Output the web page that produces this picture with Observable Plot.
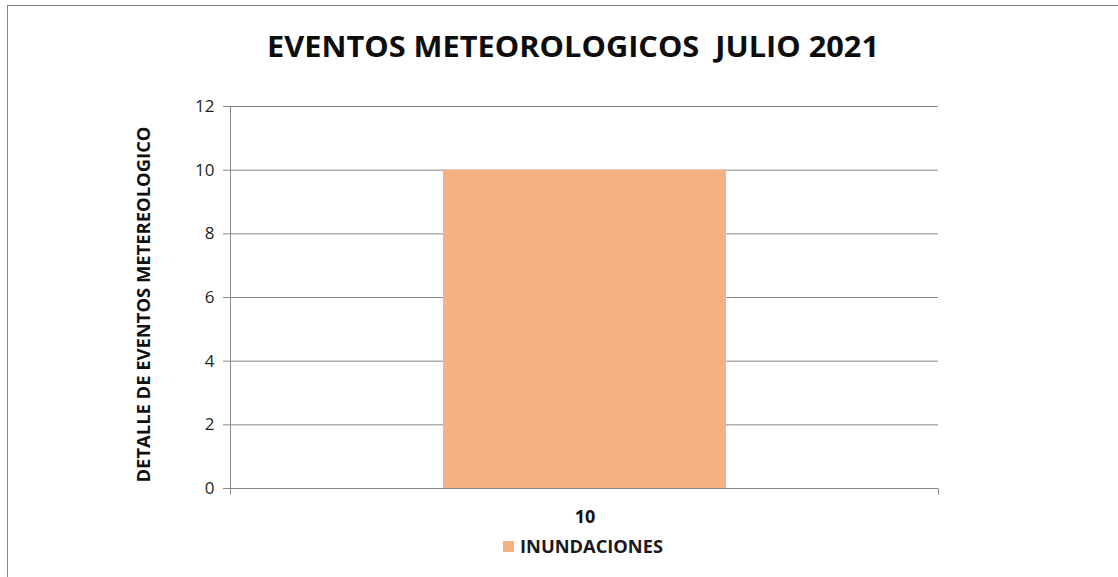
<!DOCTYPE html>
<html>
<head>
<meta charset="utf-8">
<script src="https://cdn.jsdelivr.net/npm/d3@7"></script>
<script src="https://cdn.jsdelivr.net/npm/@observablehq/plot@0.6"></script>
<style>
  html, body { margin: 0; padding: 0; background: #fff; }
  #wrap { position: relative; width: 1118px; height: 577px; overflow: hidden; background: #fff; font-family: "Open Sans", sans-serif; }
  #border { position: absolute; left: 7px; top: 5px; width: 1200px; height: 700px; border-top: 1px solid #888; border-left: 1px solid #888; box-sizing: border-box; }
  #title { position: absolute; left: 267px; top: 27px; white-space: nowrap; font-size: 29px; font-weight: 700; color: #0d0d0d; line-height: 1.3; transform-origin: 0 50%; }
  #plot { position: absolute; left: 0; top: 80px; }
  #legend { position: absolute; left: 503px; top: 535px; height: 22px; display: flex; align-items: center; }
  #legend .sw { width: 11px; height: 11px; margin-right: 6px; }
  #legend .lt { font-size: 17px; font-weight: 700; color: #1a1a1a; white-space: nowrap; transform-origin: 0 50%; display: inline-block; }
  #plot svg g[aria-label="y-axis tick label"] text { font-size: 17px; }
  #plot svg g[aria-label="x-axis tick label"] text { font-size: 18px; font-weight: 700; }
</style>
</head>
<body>
<div id="wrap">
  <div id="border"></div>
  <div id="title"></div>
  <div id="plot"></div>
  <div id="legend"></div>
</div>
<script>
const titleText = "EVENTOS METEOROLOGICOS  JULIO 2021";
const yAxisLabel = "DETALLE DE EVENTOS METEREOLOGICO";
const categories = ["10"];
const seriesNames = ["INUNDACIONES"];
const seriesValues = [10];
const yTicks = [0, 2, 4, 6, 8, 10, 12];
const seriesColors = ["#F4B183"];

const data = categories.map((c, i) => ({ cat: c, value: seriesValues[i], series: seriesNames[0] }));

const gray = "#898989";

const axisLines = (index, scales, values, dim) => {
  const { width, height, marginLeft, marginRight, marginTop, marginBottom } = dim;
  const g = d3.create("svg:g").attr("stroke", gray).attr("stroke-width", 1);
  const xl = marginLeft + 0.5, xr = width - marginRight + 0.5, yb = height - marginBottom + 0.5;
  g.append("line").attr("x1", xl).attr("x2", xl).attr("y1", marginTop).attr("y2", yb + 6);
  g.append("line").attr("x1", xr).attr("x2", xr).attr("y1", yb).attr("y2", yb + 6);
  return g.node();
};

const chart = Plot.plot({
  width: 1118,
  height: 455,
  marginTop: 26,
  marginBottom: 47,
  marginLeft: 230,
  marginRight: 180,
  style: { fontFamily: "Open Sans, sans-serif", fontSize: "17px", background: "transparent", overflow: "visible" },
  x: { domain: categories, paddingInner: 0, paddingOuter: 0.7465, label: null },
  y: { domain: [0, 12], ticks: yTicks, label: null },
  color: { domain: seriesNames, range: seriesColors },
  marks: [
    Plot.gridY(yTicks, { stroke: gray, strokeOpacity: 1 }),
    Plot.barY(data, { x: "cat", y: "value", fill: "series" }),
    Plot.axisY(yTicks, { tickSize: 7, tickPadding: 9, fontSize: 17, stroke: gray, fill: "#1f1f1f", label: null }),
    Plot.axisX({ tickSize: 0, tickPadding: 22, fontSize: 18, fontWeight: "bold", fill: "#111", label: null }),
    axisLines,
    Plot.text([yAxisLabel], { text: d => d, frameAnchor: "left", textAnchor: "middle", rotate: -90, dx: -86, dy: 7, fontSize: 18, fontWeight: "bold", fill: "#111" })
  ]
});
document.getElementById("plot").appendChild(chart);

// fit the rotated label length
d3.select(chart).selectAll('g[aria-label="text"] text')
  .attr("textLength", 356).attr("lengthAdjust", "spacingAndGlyphs");

// title
const t = document.getElementById("title");
t.textContent = titleText.replace(/  /g, "\u00a0 ");
const tw = t.getBoundingClientRect().width;
t.style.transform = `scaleX(${612 / tw})`;

// legend
const lg = document.getElementById("legend");
seriesNames.forEach((s, i) => {
  const sw = document.createElement("div");
  sw.className = "sw"; sw.style.background = seriesColors[i];
  const lt = document.createElement("span");
  lt.className = "lt"; lt.textContent = s;
  lg.appendChild(sw); lg.appendChild(lt);
  const w = lt.getBoundingClientRect().width;
  lt.style.transform = `scaleX(${143 / w})`;
});
</script>
</body>
</html>
